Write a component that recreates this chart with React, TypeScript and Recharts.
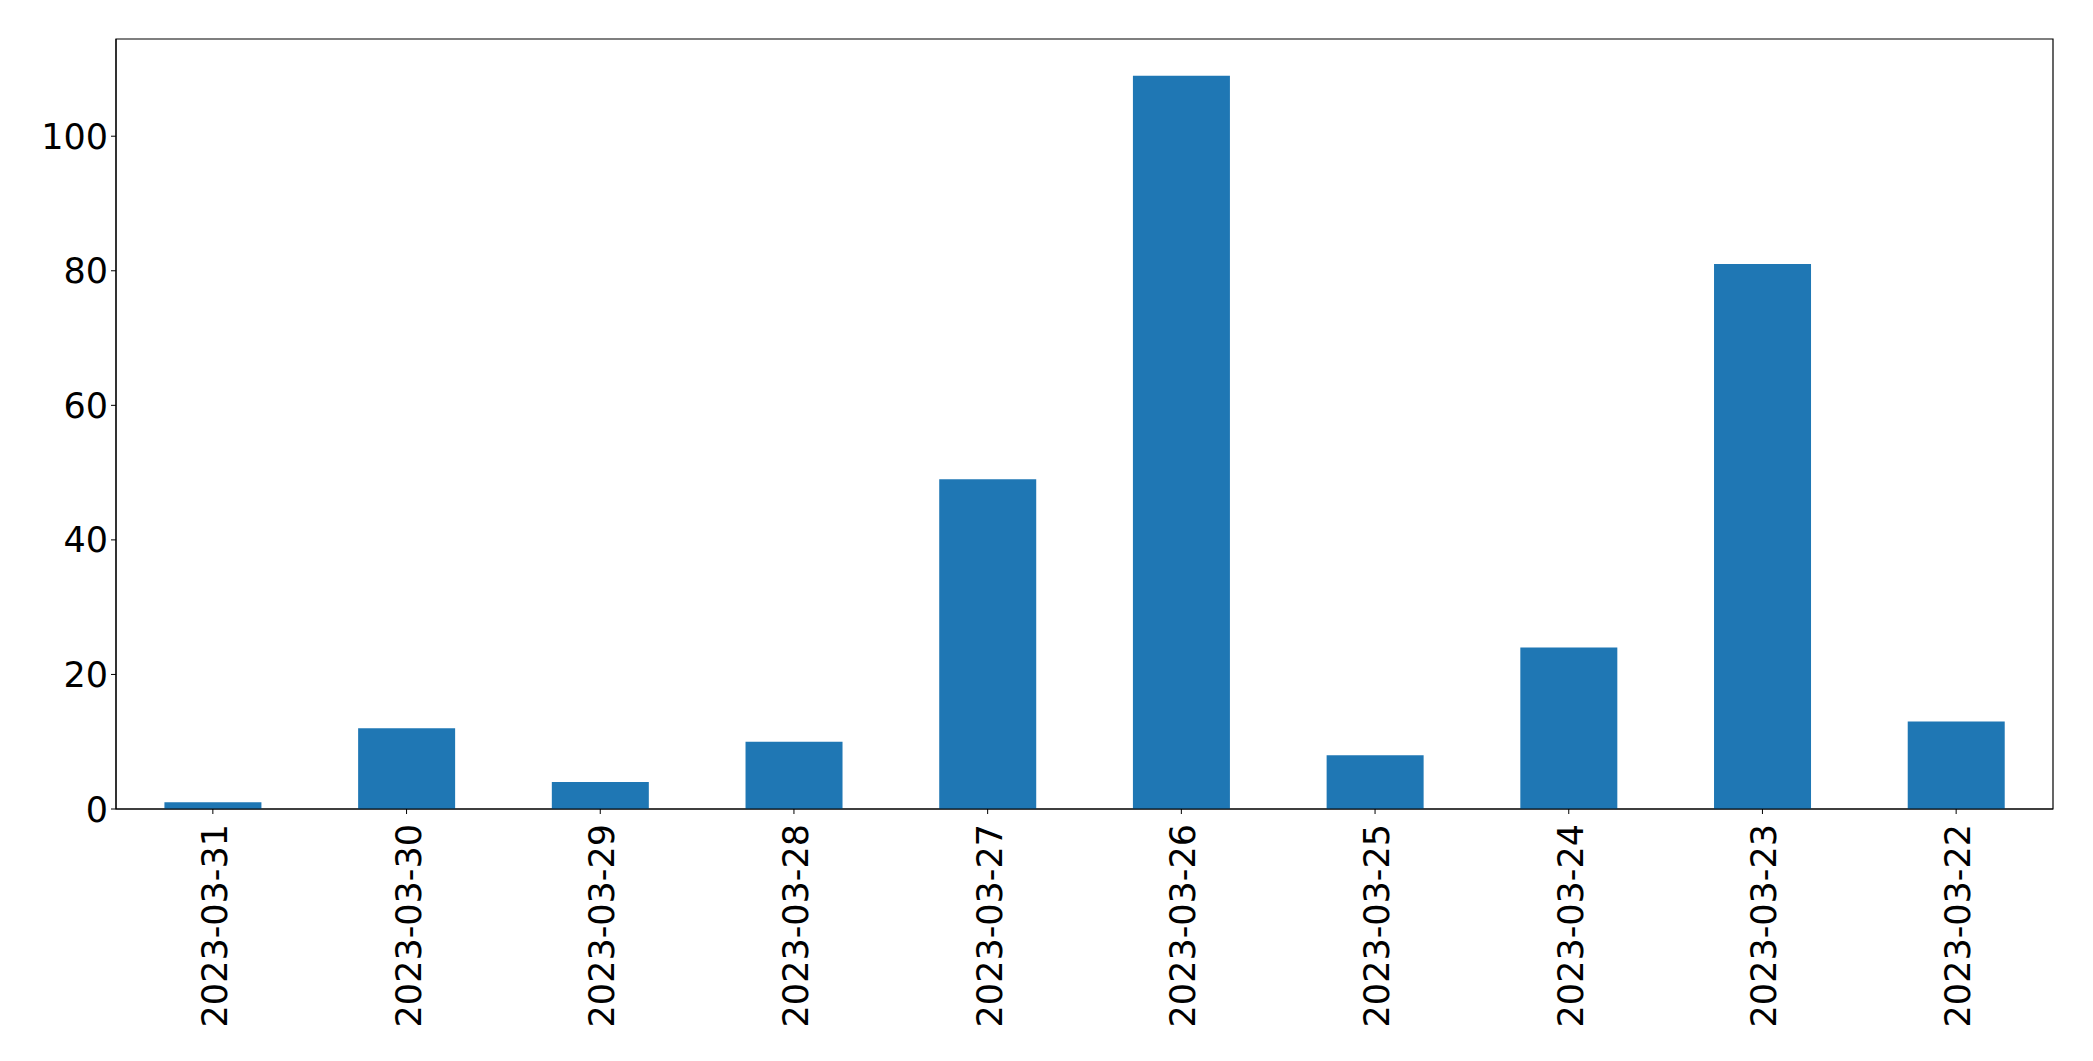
import { BarChart, Bar, XAxis, YAxis, ReferenceArea } from "recharts";

const dates = [
  "2023-03-31",
  "2023-03-30",
  "2023-03-29",
  "2023-03-28",
  "2023-03-27",
  "2023-03-26",
  "2023-03-25",
  "2023-03-24",
  "2023-03-23",
  "2023-03-22",
];
const counts = [1, 12, 4, 10, 49, 109, 8, 24, 81, 13];
const yTicks = [0, 20, 40, 60, 80, 100];
const yMax = 114.45;

const data = dates.map((date, i) => ({ date, count: counts[i] }));

const FONT = "'DejaVu Sans', sans-serif";
const FONT_SIZE = 35;

function DateTick({ x, y, payload }: any) {
  return (
    <text
      transform={`translate(${x + 14},${y + 8}) rotate(-90)`}
      textAnchor="end"
      fontFamily={FONT}
      fontSize={FONT_SIZE}
      fill="#000"
    >
      {payload.value}
    </text>
  );
}

function CountTick({ x, y, payload }: any) {
  return (
    <text
      x={x - 1}
      y={y + 12.5}
      textAnchor="end"
      fontFamily={FONT}
      fontSize={FONT_SIZE}
      fill="#000"
    >
      {payload.value}
    </text>
  );
}

export default function App() {
  return (
    <div style={{ position: "absolute", left: 0, top: 0, background: "#fff" }}>
      <BarChart
        width={2093}
        height={1061}
        data={data}
        margin={{ top: 39, right: 40, left: 0, bottom: 0 }}
        barCategoryGap="25%"
      >
        <XAxis
          dataKey="date"
          height={252}
          interval={0}
          stroke="#000"
          tickSize={5}
          tick={<DateTick />}
        />
        <YAxis
          type="number"
          domain={[0, yMax]}
          ticks={yTicks}
          width={116}
          stroke="#000"
          tickSize={5}
          allowDataOverflow
          tick={<CountTick />}
        />
        <Bar dataKey="count" fill="#1f77b4" isAnimationActive={false} />
        {/* plot frame */}
        <ReferenceArea
          y1={0}
          y2={yMax}
          fill="none"
          fillOpacity={0}
          stroke="#000"
          strokeWidth={1.2}
          strokeOpacity={1}
          ifOverflow="visible"
        />
      </BarChart>
    </div>
  );
}
